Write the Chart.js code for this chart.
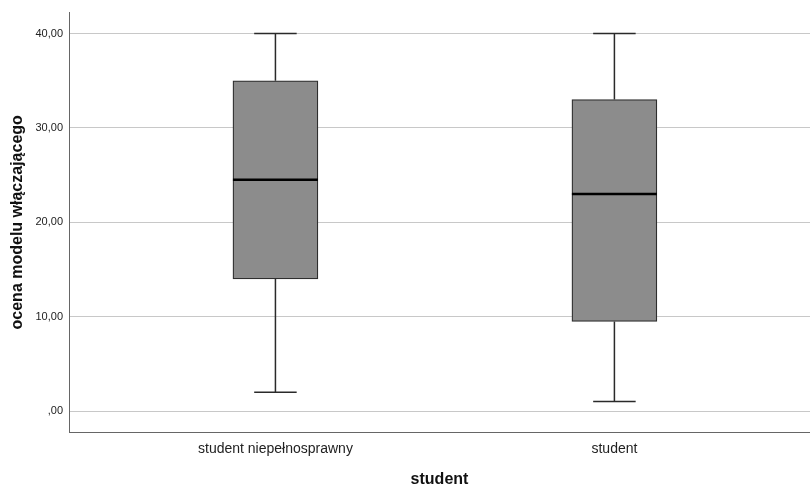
<!DOCTYPE html>
<html>
<head>
<meta charset="utf-8">
<script src="https://cdn.jsdelivr.net/npm/chart.js@4/dist/chart.umd.min.js"></script>
<style>
html,body{margin:0;padding:0;background:#fff;}
#wrap{width:810px;height:485px;position:relative;}
</style>
</head>
<body>
<div id="wrap"><canvas id="c" width="810" height="485"></canvas></div>
<script>
const categories = ["student niepełnosprawny", "student"];
const whiskerLow = [2, 1];
const q1 = [14, 9.5];
const median = [24.5, 23];
const q3 = [35, 33];
const whiskerHigh = [40, 40];
const yTicks = [0, 10, 20, 30, 40];
const yTickLabels = [",00", "10,00", "20,00", "30,00", "40,00"];

const FONT = "'Liberation Sans', Arial, sans-serif";

const boxPlugin = {
  id: 'boxWhiskers',
  afterDatasetsDraw(chart) {
    const ctx = chart.ctx;
    const xs = chart.scales.x, ys = chart.scales.y;
    const meta = chart.getDatasetMeta(0);
    ctx.save();
    categories.forEach((c, i) => {
      const bar = meta.data[i];
      const cx = xs.getPixelForValue(i + 1);
      const half = bar.width / 2;
      const capHalf = half / 2;
      const yl = ys.getPixelForValue(whiskerLow[i]);
      const yh = ys.getPixelForValue(whiskerHigh[i]);
      const y1 = ys.getPixelForValue(q1[i]);
      const y3 = ys.getPixelForValue(q3[i]);
      const ym = ys.getPixelForValue(median[i]);
      ctx.strokeStyle = '#2a2a2a';
      ctx.lineWidth = 1.5;
      ctx.beginPath();
      ctx.moveTo(cx, y3); ctx.lineTo(cx, yh);
      ctx.moveTo(cx, y1); ctx.lineTo(cx, yl);
      ctx.moveTo(cx - capHalf, yh); ctx.lineTo(cx + capHalf, yh);
      ctx.moveTo(cx - capHalf, yl); ctx.lineTo(cx + capHalf, yl);
      ctx.stroke();
      ctx.strokeStyle = '#000';
      ctx.lineWidth = 2.5;
      ctx.beginPath();
      ctx.moveTo(cx - half, ym); ctx.lineTo(cx + half, ym);
      ctx.stroke();
    });
    ctx.restore();
  }
};

new Chart(document.getElementById('c'), {
  type: 'bar',
  data: {
    datasets: [{
      data: categories.map((c, i) => ({ x: i + 1, y: [q1[i], q3[i]] })),
      backgroundColor: '#8c8c8c',
      borderColor: '#2e2e2e',
      borderWidth: 1.3,
      borderSkipped: false,
      barThickness: 85
    }]
  },
  options: {
    responsive: false,
    animation: false,
    layout: { padding: { top: 12, right: 0, left: 0, bottom: 0 } },
    plugins: { legend: { display: false }, tooltip: { enabled: false } },
    scales: {
      x: {
        type: 'linear',
        offset: false,
        min: 0.391,
        max: 2.577,
        afterBuildTicks: s => { s.ticks = categories.map((c, i) => ({ value: i + 1 })); },
        afterFit: s => { s.height = 53; },
        ticks: {
          callback: v => categories[v - 1],
          color: '#222',
          font: { family: FONT, size: 14 },
          padding: 9,
          maxRotation: 0,
          autoSkip: false
        },
        grid: { display: false, drawTicks: false, offset: false },
        border: { display: true, color: '#666', width: 1 },
        title: {
          display: true,
          text: 'student',
          color: '#111',
          font: { family: FONT, size: 16, weight: 'bold' },
          padding: { top: 0, bottom: -4 }
        }
      },
      y: {
        min: -2.22,
        max: 42.22,
        afterBuildTicks: s => { s.ticks = yTicks.map(v => ({ value: v })); },
        afterFit: s => { s.width = 69; },
        ticks: {
          callback: v => yTickLabels[yTicks.indexOf(v)],
          color: '#222',
          font: { family: FONT, size: 11 },
          padding: 6
        },
        grid: { color: '#c8c8c8', lineWidth: 1, drawTicks: false },
        border: { display: true, color: '#666', width: 1 },
        title: {
          display: true,
          text: 'ocena modelu włączającego',
          color: '#111',
          font: { family: FONT, size: 16, weight: 'bold' },
          padding: { top: 8, bottom: 4 }
        }
      }
    }
  },
  plugins: [boxPlugin]
});
</script>
</body>
</html>
